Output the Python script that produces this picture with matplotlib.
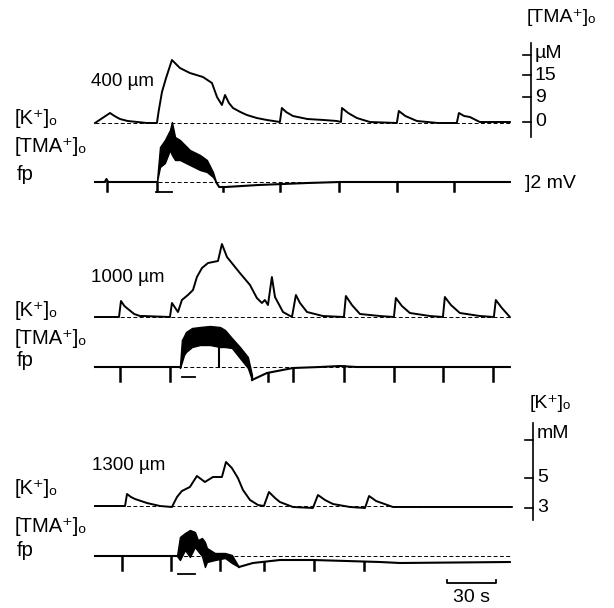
import numpy as np
import matplotlib.pyplot as plt

# time in s from the start of each sweep, deflections in chart units (1 unit ~ 1 px)
# ---- 400 um ----
k1_t = [0, 9.2, 11, 13, 15.3, 20, 26, 31.8, 37.9, 39, 41.0, 43.5, 47.1, 52.0, 58.1, 66.1, 71.6, 74.7, 77.7,
        79.6, 82, 84.5, 89, 93.0, 99, 105.3, 113.2, 114.4, 117, 121.2, 130, 140, 148.1, 150.6, 151.2, 155,
        160.3, 168.3, 184.8, 186.0, 190, 197.1, 210, 221.5, 222.8, 226, 229.5, 235.6, 254.0]
k1_v = [0, 10, 8, 6, 4, 2, 1, 0, 0, 12, 31, 45, 63, 55, 50, 46, 40, 26, 18,
        28, 20, 15, 11, 8, 5, 3, 1, 15, 11, 7, 4, 3, 2, 1, 15, 10,
        5, 1, 0, 12, 7, 2, 0, 0, 10, 7, 6, 1, 1]
band1_t = [37.9, 39.8, 42.8, 45.9, 47.1, 49.0, 52.0, 58.1, 64.3, 68.5, 72.2, 74.1]
band1_hi = [0, 35, 42, 52, 60, 45, 42, 32, 27, 22, 10, 0]
band1_lo = [0, 15, 19, 32, 27, 22, 22, 17, 12, 10, 5, 0]
fp1_pre_t = [0, 6, 7, 8, 37.9]
fp1_pre_v = [0, 0, 3, 0, 0]
fp1_post_t = [74.1, 76, 80, 100, 130, 150, 254]
fp1_post_v = [0, -5, -5, -3, -1, 0, 0]
marks1 = [7.3, 37.9, 78.3, 113.2, 149.3, 184.8, 219.7]
stim1 = [37.3, 47.1]

# ---- 1000 um ----
k2_t = [0, 14.7, 15.9, 18, 20.2, 24, 27.5, 29.4, 45.9, 47.1, 50.8, 53.2, 56.9, 60.0, 62.4, 65.5, 69.2, 75.3,
        77.7, 80.8, 88.7, 94.9, 99.1, 102.2, 104.0, 105.9, 108.3, 110.2, 115.1, 120.6, 123.0, 125.5, 129.8,
        139.5, 152.4, 153.6, 157.3, 162.2, 174.4, 183.0, 184.2, 187.9, 192.8, 205.0, 213.0, 214.2, 217.9,
        223.4, 235.6, 244.2, 245.4, 249.1, 254.0]
k2_v = [0, 0, 16, 11, 8, 3, 1, 1, 0, 14, 5, 17, 22, 27, 40, 49, 54, 56,
        73, 60, 44, 32, 19, 14, 17, 12, 40, 20, 5, 0, 22, 14, 5,
        1, 0, 21, 12, 3, 1, 0, 19, 11, 4, 1, 0, 20, 12,
        4, 1, 0, 17, 9, 0]
band2_t = [52.0, 53.2, 54.5, 55.7, 59.4, 64.3, 70.4, 76.5, 79.6, 83.8, 88.7, 93.6, 96.1]
band2_hi = [0, 27, 31, 35, 39, 40, 41, 40, 37, 29, 20, 10, -8]
band2_lo = [-1, 5, 12, 15, 20, 22, 22, 20, 20, 19, 9, -1, -13]
fp2_pre_t = [0, 52.0]
fp2_pre_v = [0, 0]
fp2_post_t = [96.1, 105.3, 121.2, 137.7, 150, 160, 254]
fp2_post_v = [-13, -6, -1, 0, 1, 0, 0]
marks2 = [15.3, 45.9, 105.9, 121.2, 152.4, 183.0, 213.0, 243.6]
inner2 = 75.9
stim2 = [53.2, 61.2]

# ---- 1300 um ----
k3_t = [0, 18.4, 19.6, 22, 24.5, 31.8, 39.8, 47.1, 50.2, 53.2, 58.1, 62.4, 67.3, 72.2, 77.7, 80.2, 83.8,
        87.5, 90.6, 94.9, 99.8, 103.4, 106.5, 110.2, 113.2, 121.2, 133.4, 136.5, 140.8, 145.7, 156.1, 165.3,
        167.8, 172.1, 182.4, 255.2]
k3_v = [0, 0, 12, 9, 7, 3, 0, -1, 9, 15, 19, 30, 24, 29, 29, 44, 38,
        28, 16, 6, 1, 0, 14, 8, 4, -1, -2, 11, 6, 2, -1, -2,
        10, 5, -1, -1]
band3_t = [50.2, 52.0, 55.1, 58.1, 61.2, 63.0, 65.5, 67.3, 68.5, 73.4, 79.6, 83.8, 88.1]
band3_hi = [0, 19, 23, 26, 24, 16, 18, 14, 8, 3, 3, 1, -11]
band3_lo = [0, -4, 6, -1, 9, 5, 0, -11, -6, -4, -2, -7, -11]
fp3_pre_t = [0, 50.2]
fp3_pre_v = [0, 0]
fp3_post_t = [88.1, 96.7, 113.2, 133.4, 174.4, 186.7, 254]
fp3_post_v = [-11, -7, -4, -4, -6, -7, -6]
marks3 = [16.5, 46.5, 76.5, 103.4, 134.0, 164.6]
stim3 = [50.8, 61.2]

depths = ["400 µm", "1000 µm", "1300 µm"]
tma_ticks = ["µM", "15", "9", "0"]
k_ticks = ["mM", "5", "3"]

# layout (pixel rows)
k_base = [123, 317, 506]
fp_base = [182, 367, 556]
mark_len = [9, 14, 14]
stim_off = [10, 10, 18]
k_lab_y = [118, 310, 488]
tma_lab_y = [147, 338, 527]
fp_lab_y = [175, 360, 550]
t_end = 254

W, H = 614, 608
PX = 49 / 30.0   # px per second
X0 = 95


def tx(px):
    return (px - X0) / PX


fam = ["Liberation Sans", "DejaVu Sans"]
fig = plt.figure(figsize=(6.14, 6.08), dpi=100)
ax = fig.add_axes([0, 0, 1, 1])
ax.set_xlim(tx(0), tx(W))
ax.set_ylim(H, 0)
ax.axis("off")

panels = [
    (k1_t, k1_v, band1_t, band1_hi, band1_lo, fp1_pre_t, fp1_pre_v, fp1_post_t, fp1_post_v, marks1, stim1),
    (k2_t, k2_v, band2_t, band2_hi, band2_lo, fp2_pre_t, fp2_pre_v, fp2_post_t, fp2_post_v, marks2, stim2),
    (k3_t, k3_v, band3_t, band3_hi, band3_lo, fp3_pre_t, fp3_pre_v, fp3_post_t, fp3_post_v, marks3, stim3),
]

for i, (kt, kv, bt, bh, bl, pt, pv, qt, qv, mk, st) in enumerate(panels):
    kb, fb = k_base[i], fp_base[i]
    t0 = kt[0]
    ax.plot([t0, t_end], [kb, kb], color="k", lw=0.7, dashes=(4, 2.5))
    ax.plot([t0, t_end], [fb, fb], color="k", lw=0.7, dashes=(4, 2.5))
    ax.plot(kt, kb - np.array(kv), color="k", lw=1.4, solid_joinstyle="round")
    ax.fill_between(bt, fb - np.array(bh), fb - np.array(bl), color="k", lw=1.0, edgecolor="k")
    ax.plot(pt, fb - np.array(pv), color="k", lw=1.5)
    ax.plot(qt, fb - np.array(qv), color="k", lw=1.5)
    for m in mk:
        yv = np.interp(m, qt, fb - np.array(qv)) if m > qt[0] else fb
        ax.plot([m, m], [yv, fb + mark_len[i]], color="k", lw=1.8)
    ax.plot(st, [fb + stim_off[i]] * 2, color="k", lw=1.3)

# extra marker inside 1000 um band
ax.plot([inner2, inner2], [fp_base[1] - 20, fp_base[1]], color="k", lw=1.5)

# row labels
for i in range(3):
    ax.text(tx(15), k_lab_y[i], "[K⁺]ₒ", fontsize=14.5, family=fam, va="center", ha="left")
    ax.text(tx(15), tma_lab_y[i], "[TMA⁺]ₒ", fontsize=14.5, family=fam, va="center", ha="left")
    ax.text(tx(17), fp_lab_y[i], "fp", fontsize=14.5, family=fam, va="center", ha="left")
dep_pos = [(91, 82), (91, 277), (92, 465)]
for (x, y), s in zip(dep_pos, depths):
    ax.text(tx(x), y, s, fontsize=13.5, family=fam, va="center", ha="left")

# TMA calibration (top right)
sx = tx(531)
ax.plot([sx, sx], [43, 137], color="k", lw=1.2)
for y, s in zip([55, 75, 97, 122], tma_ticks):
    ax.plot([tx(523), sx], [y, y], color="k", lw=1.2)
    ax.text(tx(535), y - 2 if s == "µM" else y, s, fontsize=14, family=fam, va="center", ha="left")
ax.text(tx(527), 17, "[TMA⁺]ₒ", fontsize=14, family=fam, va="center", ha="left")
ax.text(tx(525), 183, "]2 mV", fontsize=14, family=fam, va="center", ha="left")

# K calibration (bottom right)
sx = tx(533)
ax.plot([sx, sx], [423, 520], color="k", lw=1.2)
for y, s in zip([440, 478, 508], k_ticks):
    ax.plot([tx(525), sx], [y, y], color="k", lw=1.2)
    ax.text(tx(537), y - 1 if s != "mM" else 433, s, fontsize=14, family=fam, va="center", ha="left")
ax.text(tx(530), 404, "[K⁺]ₒ", fontsize=14, family=fam, va="center", ha="left")

# 30 s bar
b0 = tx(447)
ax.plot([b0, b0, b0 + 30, b0 + 30], [580, 583, 583, 580], color="k", lw=1.3)
ax.text(b0 + 15, 598, "30 s", fontsize=14, family=fam, va="center", ha="center")

fig.savefig("out.png", dpi=100)
